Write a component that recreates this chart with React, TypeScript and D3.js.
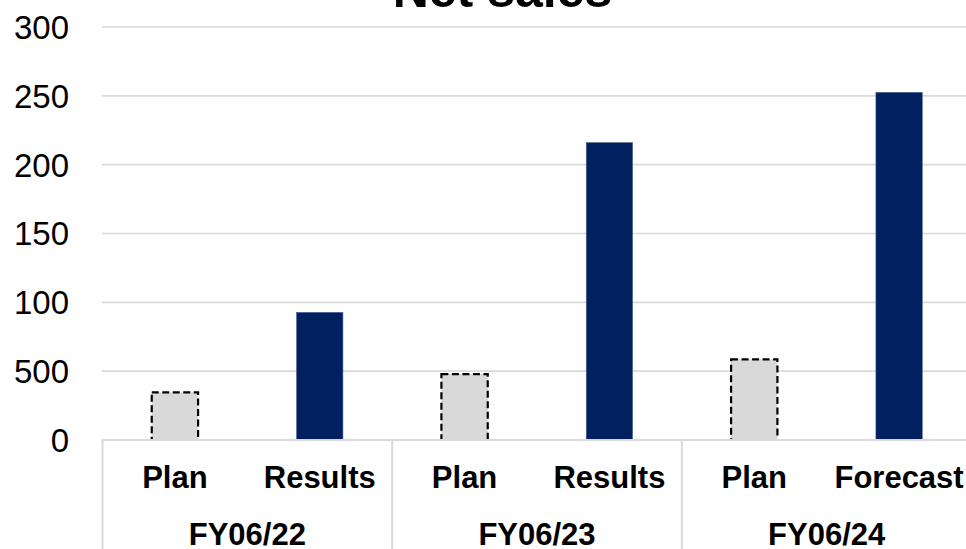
import React from "react";
import * as d3 from "d3";

const groups = ["FY06/22", "FY06/23", "FY06/24"];
const categories = ["Plan", "Results", "Plan", "Results", "Plan", "Forecast"];
const kinds = ["plan", "actual", "plan", "actual", "plan", "actual"];
const values = [34.6, 92.7, 47.9, 216, 58.6, 252.5];
const tickValues = [0, 50, 100, 150, 200, 250, 300];
const tickLabels = ["0", "500", "100", "150", "200", "250", "300"];
const title = "Net sales";

const W = 966;
const H = 549;
const FONT = "'Liberation Sans', Arial, sans-serif";

export default function App() {
  const x = d3
    .scaleBand<number>()
    .domain(d3.range(categories.length))
    .range([102.5, 971.5])
    .paddingInner(0.68)
    .paddingOuter(0.34);
  const y = d3.scaleLinear().domain([0, 300]).range([440, 27]);
  const step = x.step();
  const groupX = (g: number) => x.range()[0] + g * 2 * step;

  return (
    <svg
      width={W}
      height={H}
      style={{ position: "absolute", left: 0, top: 0, background: "#fff" }}
      fontFamily={FONT}
    >
      {tickValues.slice(1).map((t) => (
        <line
          key={"g" + t}
          x1={102}
          x2={W}
          y1={y(t)}
          y2={y(t)}
          stroke="#d9d9d9"
          strokeWidth={1.6}
        />
      ))}
      {tickValues.map((t, i) => (
        <text
          key={"t" + t}
          x={69}
          y={y(t)}
          dy="0.36em"
          textAnchor="end"
          fontSize={33}
          fill="#000"
        >
          {tickLabels[i]}
        </text>
      ))}
      {values.map((v, i) =>
        kinds[i] === "plan" ? (
          <rect
            key={"b" + i}
            x={x(i)!}
            y={y(v)}
            width={x.bandwidth()}
            height={y(0) - y(v)}
            fill="#d9d9d9"
            stroke="#000"
            strokeWidth={2.2}
            strokeDasharray="7,3.5"
          />
        ) : (
          <rect
            key={"b" + i}
            x={x(i)!}
            y={y(v)}
            width={x.bandwidth()}
            height={y(0) - y(v)}
            fill="#002060"
            stroke="#4a6090"
            strokeWidth={0.6}
          />
        )
      )}
      <line x1={102} x2={W} y1={y(0)} y2={y(0)} stroke="#d9d9d9" strokeWidth={2} />
      {groups.map((g, gi) => (
        <line
          key={"s" + gi}
          x1={groupX(gi)}
          x2={groupX(gi)}
          y1={y(0)}
          y2={H}
          stroke="#d9d9d9"
          strokeWidth={2}
        />
      ))}
      {categories.map((c, i) => (
        <text
          key={"c" + i}
          x={x(i)! + x.bandwidth() / 2}
          y={488}
          textAnchor="middle"
          fontSize={31}
          fontWeight="bold"
          fill="#000"
        >
          {c}
        </text>
      ))}
      {groups.map((g, gi) => (
        <text
          key={"gl" + gi}
          x={groupX(gi) + step}
          y={545}
          textAnchor="middle"
          fontSize={31}
          fontWeight="bold"
          fill="#000"
        >
          {g}
        </text>
      ))}
      <text x={502.5} y={7} textAnchor="middle" fontSize={50} fontWeight="bold" fill="#000">
        {title}
      </text>
    </svg>
  );
}
